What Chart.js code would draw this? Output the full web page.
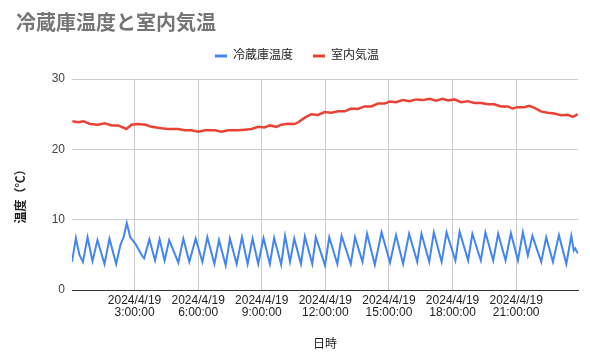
<!DOCTYPE html>
<html lang="ja">
<head>
<meta charset="utf-8">
<title>冷蔵庫温度と室内気温</title>
<script src="https://cdn.jsdelivr.net/npm/chart.js@4"></script>
<style>
  html, body { margin: 0; padding: 0; background: #fff; }
  #wrap { width: 590px; height: 363px; }
</style>
</head>
<body>
<div id="wrap"><canvas id="chart" width="590" height="363"></canvas></div>
<script>
// 2024/4/19 の記録。時刻は 0:00 からの経過分
const fridgeMinutes = [3, 14, 24, 34, 47, 61, 75, 95, 109, 128, 140, 149, 158, 168, 182, 201, 207, 222, 238, 251,
  265, 278, 304, 318, 335, 353, 372, 386, 406, 419, 438, 450, 469, 484, 500, 514, 530, 545, 563, 575,
  595, 606, 620, 632, 651, 662, 683, 693, 719, 731, 754, 766, 792, 804, 825, 838, 860, 879, 903, 920,
  940, 957, 980, 992, 1014, 1027, 1049, 1063, 1088, 1100, 1124, 1136, 1160, 1173, 1195, 1209, 1230, 1245, 1265, 1279,
  1293, 1306, 1331, 1345, 1364, 1381, 1402, 1416, 1423, 1427, 1435];
const fridgeTemps = [4.0, 7.4, 5.0, 4.0, 7.5, 4.1, 7.1, 3.7, 7.3, 3.7, 6.4, 7.5, 9.5, 7.5, 6.6, 4.9, 4.5, 7.2, 4.2, 7.2,
  4.2, 7.1, 3.9, 7.3, 4.0, 7.3, 4.0, 7.5, 3.7, 7.1, 3.5, 7.3, 3.7, 7.5, 3.7, 7.3, 3.7, 7.4, 3.7, 7.4,
  3.6, 7.7, 4.0, 7.3, 3.7, 7.6, 3.7, 7.5, 3.5, 7.5, 3.7, 7.7, 3.7, 7.5, 4.0, 8.0, 3.6, 8.2, 3.9, 7.8,
  3.7, 8.0, 4.0, 8.0, 4.0, 8.2, 4.0, 8.2, 4.2, 8.3, 4.2, 8.0, 4.2, 8.2, 4.2, 8.0, 4.2, 8.1, 4.2, 8.2,
  4.9, 7.7, 4.0, 7.5, 4.0, 7.8, 3.7, 7.7, 5.6, 5.9, 5.2];

const roomMinutes = [4, 21, 35, 54, 77, 96, 115, 134, 148, 157, 171, 190, 211, 228, 256, 275, 303, 322, 341, 360,
  379, 407, 426, 445, 473, 492, 511, 530, 548, 563, 581, 595, 614, 633, 643, 662, 680, 699, 718, 737,
  756, 775, 793, 812, 831, 850, 869, 888, 902, 920, 939, 958, 977, 996, 1015, 1033, 1052, 1067, 1085, 1104,
  1123, 1142, 1161, 1180, 1198, 1217, 1236, 1250, 1264, 1283, 1297, 1312, 1330, 1349, 1368, 1387, 1406, 1420, 1434];
const roomTemps = [24.0, 23.85, 24.0, 23.6, 23.5, 23.7, 23.4, 23.4, 23.1, 22.9, 23.5, 23.6, 23.5, 23.2, 23.0, 22.9, 22.9, 22.7, 22.7, 22.5,
  22.7, 22.7, 22.5, 22.7, 22.7, 22.8, 22.9, 23.2, 23.1, 23.4, 23.2, 23.5, 23.65, 23.6, 23.85, 24.5, 25.0, 24.9, 25.3, 25.2,
  25.4, 25.4, 25.8, 25.75, 26.1, 26.1, 26.5, 26.5, 26.8, 26.7, 27.0, 26.85, 27.1, 27.0, 27.2, 26.9, 27.2, 26.95, 27.1, 26.7,
  26.85, 26.6, 26.6, 26.4, 26.4, 26.1, 26.1, 25.8, 26.0, 26.0, 26.2, 25.9, 25.4, 25.2, 25.1, 24.85, 24.9, 24.6, 25.0];

const xTickHours = [3, 6, 9, 12, 15, 18, 21];
const xTickLabels = [
  ['2024/4/19', '3:00:00'], ['2024/4/19', '6:00:00'], ['2024/4/19', '9:00:00'], ['2024/4/19', '12:00:00'],
  ['2024/4/19', '15:00:00'], ['2024/4/19', '18:00:00'], ['2024/4/19', '21:00:00']
];
const yTicks = [0, 10, 20, 30];

const BLUE = '#4285f4';
const RED = '#ea4335';

Chart.defaults.font.family = '"Liberation Sans", "Noto Sans CJK JP", sans-serif';

// 凡例の下に余白を足す
const legendGap = {
  id: 'legendGap',
  beforeInit(chart) {
    if (!chart.legend) return;
    const fit = chart.legend.fit;
    chart.legend.fit = function () { fit.call(this); this.height += 7; };
  }
};

const toPoints = (mins, vals) => mins.map((m, i) => ({ x: m / 60, y: vals[i] }));

new Chart(document.getElementById('chart'), {
  type: 'line',
  data: {
    datasets: [
      {
        label: '冷蔵庫温度',
        data: toPoints(fridgeMinutes, fridgeTemps),
        borderColor: BLUE,
        backgroundColor: BLUE,
        borderWidth: 2,
        pointRadius: 0,
        tension: 0
      },
      {
        label: '室内気温',
        data: toPoints(roomMinutes, roomTemps),
        borderColor: RED,
        backgroundColor: RED,
        borderWidth: 2.5,
        pointRadius: 0,
        tension: 0
      }
    ]
  },
  options: {
    responsive: false,
    animation: false,
    layout: { padding: { left: 16, right: 12, top: 0, bottom: 0 } },
    scales: {
      x: {
        type: 'linear',
        min: fridgeMinutes[0] / 60,
        max: fridgeMinutes[fridgeMinutes.length - 1] / 60,
        afterBuildTicks: s => { s.ticks = xTickHours.map(v => ({ value: v })); },
        afterFit: s => { s.height = 73; },
        ticks: {
          autoSkip: false,
          maxRotation: 0,
          padding: 5,
          color: '#222',
          font: { size: 12, lineHeight: 1 },
          callback: (v, i) => xTickLabels[i]
        },
        grid: { color: '#cccccc', drawTicks: false },
        border: { color: '#333333' },
        title: { display: true, text: '日時', color: '#222', font: { size: 12 }, padding: { top: 0, bottom: 11 } }
      },
      y: {
        min: 0,
        max: 30,
        afterBuildTicks: s => { s.ticks = yTicks.map(v => ({ value: v })); },
        afterFit: s => { s.width = 56; },
        ticks: { padding: 7, color: '#444', font: { size: 12 } },
        grid: {
          color: c => (c.tick && c.tick.value === 0 ? '#333333' : '#cccccc'),
          drawTicks: false
        },
        border: { display: false },
        title: {
          display: true,
          text: '温度（℃）　　',
          color: '#222',
          font: { size: 12, weight: 'bold', lineHeight: 1 },
          padding: 0
        }
      }
    },
    plugins: {
      title: {
        display: true,
        text: '冷蔵庫温度と室内気温',
        align: 'start',
        color: '#757575',
        font: { size: 20, weight: 'bold', lineHeight: 0.3 },
        padding: { top: 21, bottom: 3 }
      },
      legend: {
        position: 'top',
        labels: {
          boxWidth: 12,
          boxHeight: 3,
          padding: 20,
          color: '#222',
          font: { size: 12 },
          generateLabels: chart => Chart.defaults.plugins.legend.labels.generateLabels(chart)
            .map(item => ({ ...item, lineWidth: 0 }))
        }
      },
      tooltip: { enabled: false }
    }
  },
  plugins: [legendGap]
});
</script>
</body>
</html>
